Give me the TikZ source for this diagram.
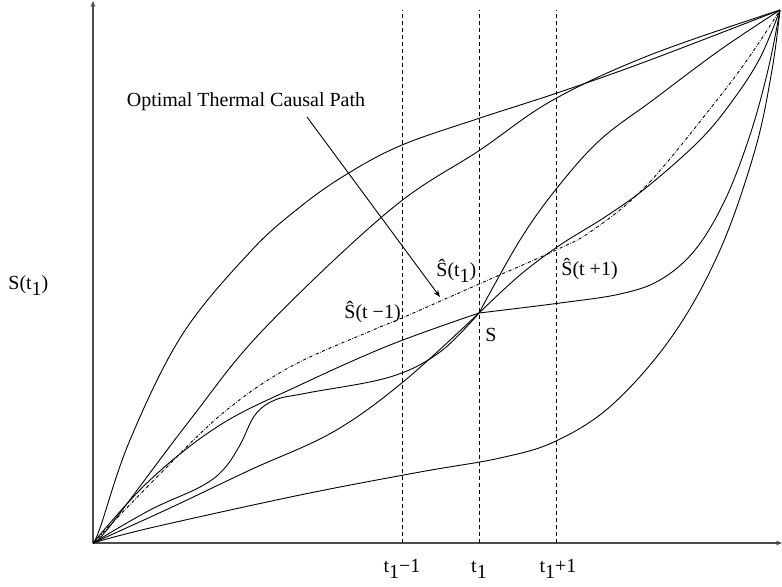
\documentclass[tikz,border=0pt]{standalone}
\usepackage{fontspec}
\setmainfont{Liberation Serif}
\usetikzlibrary{arrows.meta}
\newcommand{\lowsub}[1]{\raisebox{-0.33em}{#1}}

\begin{document}
\begin{tikzpicture}[x=0.5pt,y=-0.5pt,
  axis/.style={draw=black!70,line width=0.6pt,-{Stealth[length=3pt,width=2.4pt]}},
  trace/.style={line width=0.45pt,smooth,tension=0.6},
  optpath/.style={trace,dash pattern=on 1.6pt off 0.8pt on 0.3pt off 0.8pt},
  tline/.style={line width=0.45pt,dash pattern=on 2pt off 1.5pt},
  lbl/.style={font=\fontsize{10}{12}\selectfont,inner sep=0pt},
  arr/.style={line width=0.45pt,-{Stealth[length=3.5pt,width=2.6pt]}}
]
  \useasboundingbox (0,0) rectangle (782,586);
  % End points
  \coordinate (O) at (93,543);
  \coordinate (E) at (780,10);
  \coordinate (S) at (479,313);
  \coordinate (ytop) at (93,1);
  \coordinate (xend) at (782,543);
  % Axes
  \draw[axis] (O) -- (ytop);
  \draw[axis] (O) -- (xend);
  % Time steps
  \foreach \x/\nm in {402/tm,479/tt,556/tp}{
    \coordinate (\nm b) at (\x,543);
    \coordinate (\nm t) at (\x,10);
    \draw[tline] (\nm b) -- (\nm t);
  }
  \node[lbl,anchor=base] (ltm) at (402,572) {t\lowsub{1}−1};
  \node[lbl,anchor=base] (ltt) at (479,572) {t\lowsub{1}};
  \node[lbl,anchor=base] (ltp) at (558,572) {t\lowsub{1}+1};
  \node[lbl,anchor=base west] (lsy) at (8,289) {S(t\lowsub{1})};
  % Paths ending at E
  \draw[trace] plot coordinates {(O) (100,528) (130,440) (182,335) (250,252) (300,207) (347,174) (402,145) (480,118) (560,92) (650,60) (E)};
  \draw[trace] plot coordinates {(O) (110,526) (190,420) (263,330) (390,210) (480,150) (553,100) (650,55) (E)};
  \draw[trace] plot coordinates {(O) (150,528) (300,495) (420,472) (500,458) (556,441) (613,404) (673,335) (720,250) (755,150) (772,70) (E)};
  % Paths through S
  \draw[trace] plot coordinates {(O) (150,480) (220,425) (300,385) (390,345) (S)};
  \draw[trace] plot coordinates {(O) (150,510) (200,487) (223,470) (240,445) (255,415) (275,400) (307,393) (390,377) (440,352) (S)};
  \draw[trace] plot coordinates {(O) (170,508) (250,470) (333,432) (403,382) (S)};
  \draw[trace] plot coordinates {(S) (520,240) (557,188) (600,140) (653,100) (720,50) (E)};
  \draw[trace] plot coordinates {(S) (520,275) (560,245) (605,217) (647,187) (700,140) (733,100) (760,58) (E)};
  \draw[trace] plot coordinates {(S) (560,303) (620,294) (660,280) (695,250) (725,200) (750,135) (768,70) (E)};
  % Optimal path
  \draw[optpath] plot coordinates {(O) (157,477) (223,413) (290,367) (373,330) (402,318) (479,284) (556,250) (593,230) (647,185) (717,100) (752,53) (E)};
  % Estimates
  \node[lbl,anchor=base west] (stm) at (344,318) {Ŝ(t −1)};
  \node[lbl,anchor=base west] (stt) at (436,276) {Ŝ(t\lowsub{1})};
  \node[lbl,anchor=base west] (stp) at (561,275) {Ŝ(t +1)};
  \node[lbl,anchor=base west] (ls) at (485,341) {S};
  % Annotation
  \node[lbl] (opt) at (246,102) {Optimal Thermal Causal Path};
  \coordinate (optfrom) at (307,117);
  \coordinate (opttip) at (440,297);
  \draw[arr] (optfrom) -- (opttip);
\end{tikzpicture}
\end{document}
